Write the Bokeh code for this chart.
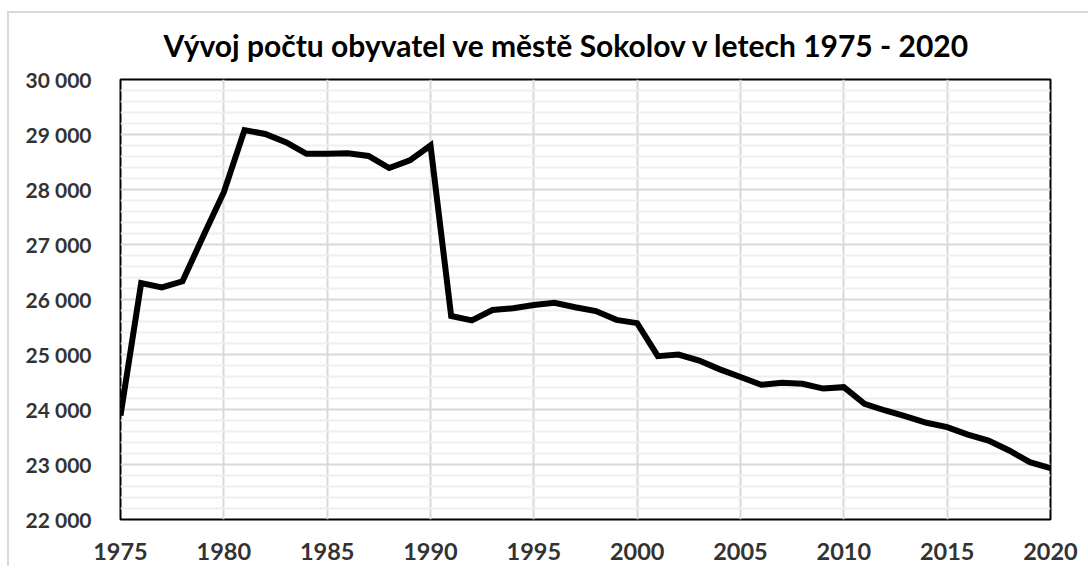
from bokeh.plotting import figure
from bokeh.models import FixedTicker, ColumnDataSource
from bokeh.embed import file_html
from bokeh.resources import INLINE

# ---- data ----
years = list(range(1975, 2021))
population = [
    23890, 26300, 26220, 26330, 27150, 27950, 29080, 29010, 28860, 28650,
    28650, 28660, 28610, 28390, 28530, 28800, 25700, 25620, 25810, 25840,
    25900, 25940, 25860, 25790, 25630, 25570, 24970, 25000, 24890, 24730,
    24590, 24450, 24485, 24467, 24380, 24406, 24103, 23982, 23873, 23758,
    23679, 23545, 23436, 23255, 23042, 22933,
]
x_ticks = [1975, 1980, 1985, 1990, 1995, 2000, 2005, 2010, 2015, 2020]
y_ticks = [22000, 23000, 24000, 25000, 26000, 27000, 28000, 29000, 30000]
y_tick_labels = ["22 000", "23 000", "24 000", "25 000", "26 000",
                 "27 000", "28 000", "29 000", "30 000"]
y_minor_step = 200
title_text = "Vývoj počtu obyvatel ve městě Sokolov v letech 1975 - 2020"

src = ColumnDataSource(dict(year=years, pop=population))

FONT = "Lato"

p = figure(
    width=1088, height=566,
    x_range=(1975, 2020), y_range=(22000, 30000),
    output_backend="svg", toolbar_location=None,
    min_border_left=120, min_border_right=38,
    min_border_top=79, min_border_bottom=47,
)
p.title.text = title_text
p.title.text_font = FONT
p.title.text_font_size = "30px"
p.title.text_font_style = "bold"
p.title.text_color = "#000000"
p.title.align = "left"
p.title.offset = 43
p.title.standoff = 34
p.title.text_line_height = 0.9

p.outline_line_color = "#000000"
p.outline_line_width = 2
p.background_fill_color = "#ffffff"
p.border_fill_color = None

# light outer chart-area border (painted behind the transparent canvas)
p.styles = {
    "background": (
        "linear-gradient(#d9d9d9,#d9d9d9) 7px 11px / 2px 100% no-repeat, "
        "linear-gradient(#d9d9d9,#d9d9d9) 7px 11px / 100% 2px no-repeat, "
        "#ffffff"
    )
}

minor = [v for v in range(y_ticks[0], y_ticks[-1] + 1, y_minor_step) if v not in y_ticks]
p.yaxis.ticker = FixedTicker(ticks=y_ticks, minor_ticks=minor)
p.xaxis.ticker = FixedTicker(ticks=x_ticks)
p.yaxis.major_label_overrides = {t: l for t, l in zip(y_ticks, y_tick_labels)}

for ax in (p.xaxis[0], p.yaxis[0]):
    ax.axis_line_color = None
    ax.major_tick_line_color = None
    ax.minor_tick_line_color = None
    ax.major_label_text_font = FONT
    ax.major_label_text_font_style = "bold"
    ax.major_label_text_color = "#333333"
p.yaxis.major_label_text_font_size = "21px"
p.xaxis.major_label_text_font_size = "23.5px"
p.yaxis.major_label_standoff = 23
p.xaxis.major_label_standoff = 17

p.xgrid.grid_line_color = "#d9d9d9"
p.xgrid.grid_line_width = 2
p.ygrid.grid_line_color = "#d9d9d9"
p.ygrid.grid_line_width = 2
p.ygrid.minor_grid_line_color = "#efefef"
p.ygrid.minor_grid_line_width = 2

p.line("year", "pop", source=src, line_color="#000000", line_width=6,
       line_join="miter")

open("out.html", "w").write(file_html(p, INLINE))
